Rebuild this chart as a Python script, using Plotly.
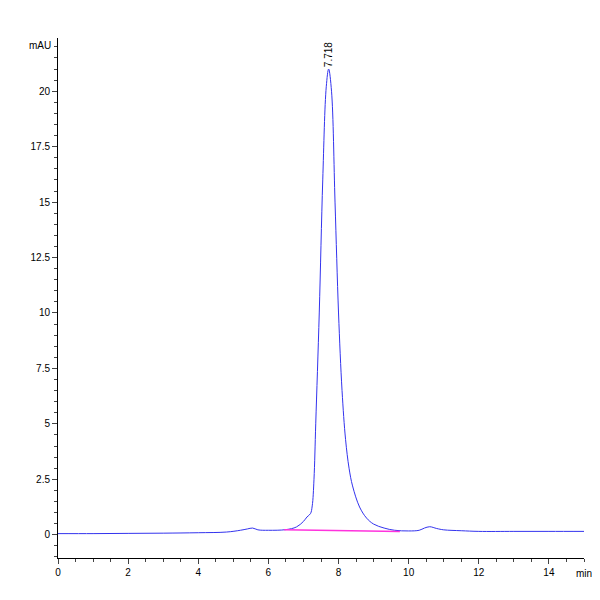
import plotly.graph_objects as go

time_min = [0, 1, 2, 3, 4, 4.8, 5.2, 5.4, 5.55, 5.7, 6.0, 6.5, 6.8, 7.0, 7.1, 7.2, 7.25, 7.3, 7.35, 7.45, 7.55, 7.65, 7.718,
            7.8, 7.9, 8.0, 8.1, 8.2, 8.3, 8.4, 8.6, 8.8, 9.0, 9.3, 9.6, 10.0, 10.3, 10.45, 10.6, 10.8, 11.0, 11.5, 12, 13, 14, 15]
mau = [0.05, 0.05, 0.06, 0.07, 0.09, 0.12, 0.2, 0.26, 0.3, 0.22, 0.2, 0.23, 0.35, 0.6, 0.8, 0.95, 1.3, 2.5, 5.0, 10.0, 16.0, 20.2, 21.0,
       20.0, 15.0, 10.0, 6.5, 4.3, 3.0, 2.2, 1.25, 0.75, 0.48, 0.3, 0.2, 0.17, 0.2, 0.3, 0.36, 0.28, 0.22, 0.18, 0.15, 0.15, 0.15, 0.15]
base_t = [6.45, 9.75]
base_y = [0.22, 0.15]
peak_t, peak_h, peak_label = 7.718, 21.0, "7.718"

fig = go.Figure()
fig.add_trace(go.Scatter(x=time_min, y=mau, mode="lines", line=dict(color="#3333ee", width=1), line_shape="spline"))
fig.add_trace(go.Scatter(x=base_t, y=base_y, mode="lines", line=dict(color="#ff33dd", width=1.5)))
fig.add_annotation(x=peak_t, y=peak_h, text=peak_label, textangle=-90, showarrow=False, yanchor="bottom",
                   font=dict(size=10, color="black"))
fig.add_annotation(xref="paper", yref="paper", x=-0.01, y=1.0, text="mAU", showarrow=False, xanchor="right",
                   font=dict(size=10, color="black"))
fig.add_annotation(xref="paper", yref="paper", x=1.0, y=-0.045, text="min", showarrow=False, xanchor="center",
                   font=dict(size=10, color="black"))
fig.update_layout(
    width=600, height=600, margin=dict(l=50, r=24, t=30, b=50, autoexpand=False),
    plot_bgcolor="white", paper_bgcolor="white", showlegend=False,
    font=dict(family="Liberation Sans", size=10, color="black"),
    xaxis=dict(range=[0, 15], tickvals=[0, 2, 4, 6, 8, 10, 12, 14], ticks="outside", ticklen=5, automargin=False,
               minor=dict(dtick=0.5, ticks="outside", ticklen=3), showgrid=False, zeroline=False,
               showline=True, linecolor="black", linewidth=1),
    yaxis=dict(range=[-1.05, 22.4], tickvals=[0, 2.5, 5, 7.5, 10, 12.5, 15, 17.5, 20], automargin=False,
               ticktext=["0", "2.5", "5", "7.5", "10", "12.5", "15", "17.5", "20"],
               ticks="outside", ticklen=5, minor=dict(dtick=0.5, ticks="outside", ticklen=3),
               showgrid=False, zeroline=False, showline=True, linecolor="black", linewidth=1),
)
fig.write_html("out.html")
